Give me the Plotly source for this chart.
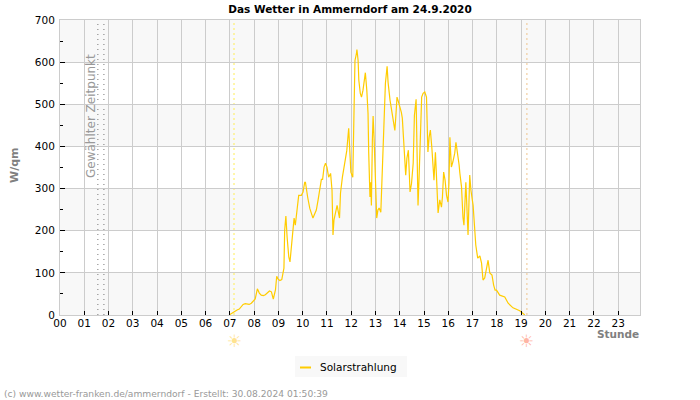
import plotly.graph_objects as go

FONT = "DejaVu Sans"
title = "Das Wetter in Ammerndorf am 24.9.2020"
hours = [f"{h:02d}" for h in range(24)]
hour_ticks = list(range(24))
y_ticks = [0, 100, 200, 300, 400, 500, 600, 700]
bands = [(0, 100), (200, 300), (400, 500), (600, 700)]
selected_time = [1.56, 1.81]
sunrise = 7.17
sunset = 19.24

t_read = [7.0, 7.08, 7.17, 7.25, 7.33, 7.42, 7.5, 7.58, 7.67, 7.75, 7.83, 7.92, 8.0, 8.08, 8.17, 8.25, 8.33, 8.42,
     8.5, 8.58, 8.67, 8.75, 8.83, 8.92, 8.97, 9.03, 9.1, 9.18, 9.22, 9.27, 9.3, 9.35, 9.4, 9.47, 9.52, 9.58,
     9.64, 9.69, 9.74, 9.78, 9.83, 9.88, 9.99, 10.06, 10.13, 10.16, 10.25, 10.34, 10.47, 10.61, 10.68, 10.78,
     10.82, 10.87, 10.93, 10.99, 11.05, 11.12, 11.2, 11.26, 11.3, 11.34, 11.44, 11.47, 11.57, 11.61, 11.69,
     11.78, 11.87, 11.95, 11.99, 12.04, 12.12, 12.17, 12.21, 12.27, 12.29, 12.34, 12.37, 12.43, 12.48, 12.54,
     12.61, 12.64, 12.7, 12.75, 12.78, 12.83, 12.86, 12.89, 12.93, 12.96, 13.0, 13.06, 13.11, 13.16, 13.21,
     13.28, 13.3, 13.35, 13.39, 13.43, 13.47, 13.54, 13.58, 13.66, 13.73, 13.77, 13.86, 13.9, 13.95, 13.99,
     14.06, 14.13, 14.17, 14.24, 14.31, 14.36, 14.42, 14.49, 14.55, 14.62, 14.67, 14.74, 14.78, 14.82, 14.86,
     14.92, 14.97, 15.03, 15.1, 15.17, 15.21, 15.23, 15.28, 15.33, 15.39, 15.44, 15.48, 15.54, 15.59, 15.65,
     15.72, 15.79, 15.83, 15.88, 15.94, 16.0, 16.06, 16.1, 16.14, 16.2, 16.26, 16.34, 16.39, 16.46, 16.52,
     16.55, 16.62, 16.68, 16.72, 16.8, 16.85, 16.89, 16.96, 17.01, 17.1, 17.15, 17.21, 17.29, 17.38, 17.45,
     17.51, 17.58, 17.65, 17.72, 17.79, 17.88, 17.95, 18.01, 18.07, 18.2, 18.41, 18.55, 18.75, 19.03, 19.24]
t = [round(v * 0.9955, 3) for v in t_read]

solar = [0, 3, 8, 10, 12, 14, 20, 25, 27, 26, 25, 28, 32, 38, 62, 52, 47, 46,
         48, 53, 57, 55, 38, 60, 92, 85, 82, 84, 100, 111, 201, 235, 185, 138, 126, 161,
         201, 230, 213, 232, 268, 284, 284, 292, 315, 315, 280, 253, 230, 249, 272, 312,
         322, 322, 351, 360, 351, 327, 336, 296, 190, 225, 253, 260, 230, 289, 327,
         360, 390, 443, 390, 339, 327, 533, 604, 620, 630, 604, 557, 526, 517, 533,
         565, 575, 533, 478, 384, 280, 315, 260, 415, 472, 420, 289, 230, 249, 254,
         244, 280, 351, 422, 502, 550, 590, 552, 510, 486, 462, 438, 470, 517, 510,
         498, 481, 467, 410, 332, 372, 391, 292, 312, 360, 474, 512, 338, 260, 320,
         439, 517, 526, 529, 517, 439, 387, 422, 439, 398, 344, 320, 386, 320, 242,
         273, 256, 280, 339, 320, 284, 268, 313, 422, 351, 363, 384, 410, 384, 356,
         337, 304, 232, 213, 315, 249, 190, 332, 296, 260, 201, 166, 135, 140, 123,
         83, 88, 107, 130, 100, 95, 71, 59, 59, 47, 43, 28, 17, 10, 0]

fig = go.Figure()
fig.add_trace(go.Scatter(x=t, y=solar, mode="lines", name="Solarstrahlung",
                         line=dict(color="#FFCC00", width=1.2), cliponaxis=True, showlegend=False))


def px(x):
    return (x - 60) / 580


def py(y):
    return (315 - y) / 295


shapes = [dict(type="rect", xref="paper", x0=0, x1=1, yref="y", y0=a, y1=b,
               fillcolor="#F8F8F8", line_width=0, layer="below") for a, b in bands]
for x in selected_time:
    shapes.append(dict(type="line", xref="x", x0=x, x1=x, yref="paper", y0=0, y1=1, layer="between",
                       line=dict(color="#777777", width=1, dash="1px 4px")))
shapes.append(dict(type="line", xref="x", x0=sunrise, x1=sunrise, yref="paper", y0=0, y1=1, layer="between",
                   line=dict(color="#FFEE55", width=1, dash="2px 3px")))
shapes.append(dict(type="line", xref="x", x0=sunset, x1=sunset, yref="paper", y0=0, y1=1, layer="between",
                   line=dict(color="#EFC48C", width=1, dash="2px 3px")))
# legend box, drawn by hand because the original key is shorter than Plotly's minimum
shapes.append(dict(type="rect", xref="paper", yref="paper", x0=px(295), x1=px(407), y0=py(377), y1=py(356),
                   fillcolor="#F8F8F8", line_width=0, layer="above"))
shapes.append(dict(type="line", xref="paper", yref="paper", x0=px(300), x1=px(311), y0=py(367.5), y1=py(367.5),
                   line=dict(color="#FFCC00", width=2), layer="above"))

annotations = [
    dict(text="Solarstrahlung", xref="paper", yref="paper", x=px(320), y=py(366.5), showarrow=False,
         font=dict(family=FONT, size=10.5, color="black"), xanchor="left", xshift=-2, yanchor="middle"),
    dict(text="Gewählter Zeitpunkt", xref="paper", yref="paper", x=px(91), y=py(116), textangle=-90,
         showarrow=False, font=dict(family=FONT, size=12, color="#999999"), xanchor="center", yanchor="middle"),
    dict(text="<b>W/qm</b>", xref="paper", yref="paper", x=px(14), y=py(165), textangle=-90,
         showarrow=False, font=dict(family=FONT, size=11, color="#808080"), xanchor="center", yanchor="middle"),
    dict(text="<b>Stunde</b>", xref="paper", yref="paper", x=px(641), y=py(334), showarrow=False,
         font=dict(family=FONT, size=10.5, color="#808080"), xanchor="right", yanchor="middle"),
    dict(text="(c) www.wetter-franken.de/ammerndorf - Erstellt: 30.08.2024 01:50:39", xref="paper", yref="paper",
         x=px(2), y=py(393.5), showarrow=False, font=dict(family=FONT, size=9.15, color="#999999"),
         xanchor="left", yanchor="middle"),
    dict(text="☀", xref="x", yref="paper", x=sunrise, y=py(341), showarrow=False,
         font=dict(family=FONT, size=17, color="#FFE38F"), xanchor="center", yanchor="middle"),
    dict(text="☀", xref="x", yref="paper", x=sunset, y=py(341), showarrow=False,
         font=dict(family=FONT, size=17, color="#FFB5A3"), xanchor="center", yanchor="middle"),
]

fig.update_layout(
    width=700, height=400, margin=dict(l=60, r=60, t=20, b=85, autoexpand=False),
    paper_bgcolor="white", plot_bgcolor="white",
    font=dict(family=FONT, size=10.5, color="black"),
    title=dict(text=f"<b>{title}</b>", x=0.5, xanchor="center", y=0.977, yanchor="middle",
               font=dict(family=FONT, size=10.5, color="black")),
    xaxis=dict(range=[0, 23.9], tickmode="array", tickvals=hour_ticks, ticktext=hours, ticks="inside", ticklen=4,
               tickcolor="black", showgrid=True, gridcolor="#CCCCCC", gridwidth=1, showline=True, linecolor="#CCCCCC",
               mirror=True, zeroline=False, tickangle=0, ticklabelstandoff=-2),
    yaxis=dict(range=[0, 700], tickmode="array", tickvals=y_ticks, ticks="inside", ticklen=5, tickcolor="black",
               showgrid=True, gridcolor="#CCCCCC", gridwidth=1, showline=True, linecolor="#CCCCCC", mirror=True,
               zeroline=False, ticklabelstandoff=2,
               minor=dict(dtick=50, ticks="inside", ticklen=3, tickcolor="black", showgrid=False)),
    showlegend=False, shapes=shapes, annotations=annotations,
)
fig.write_html("out.html", config={"displayModeBar": False}, post_script="document.body.style.margin='0';")
